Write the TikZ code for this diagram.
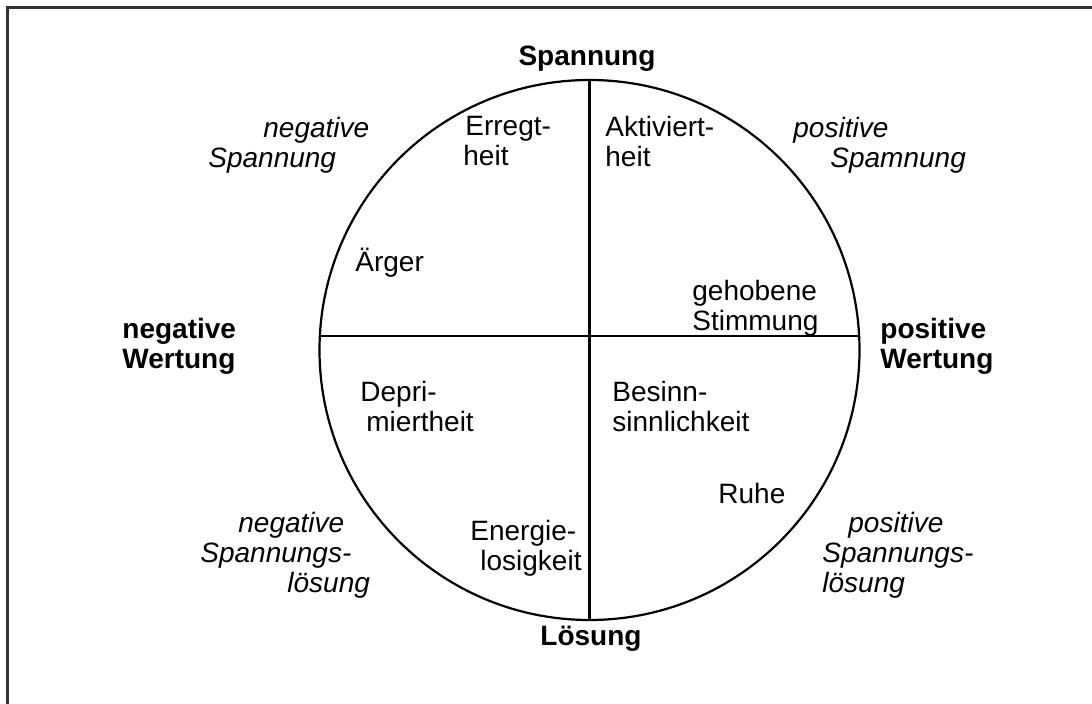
\documentclass[tikz,border=0pt]{standalone}
\usepackage{fontspec}
\setmainfont{Liberation Sans}

\tikzset{
  axis label/.style={font=\fontsize{14}{15}\selectfont\bfseries, align=left, inner sep=0pt},
  zone label/.style={font=\fontsize{14}{15}\selectfont\itshape, align=left, inner sep=0pt, anchor=north west},
  mood label/.style={font=\fontsize{14}{15}\selectfont, align=left, inner sep=0pt, anchor=north west},
}

\begin{document}
\begin{tikzpicture}[x=0.5pt,y=-0.5pt]
    \useasboundingbox (0,0) rectangle (1092,704);
    % frame, open at right and bottom
    \coordinate (frame bl) at (7,704);
    \coordinate (frame tl) at (7,8);
    \coordinate (frame tr) at (1092,8);
    \draw[line width=1.5pt, black!80] (frame bl) -- (frame tl) -- (frame tr);

    \node[circle, draw, line width=1.1pt, minimum size=270pt, inner sep=0pt] (wheel) at (589.5,350) {};
    \draw[line width=1.1pt] (wheel.north) -- (wheel.south);
    \draw[line width=1.1pt] (wheel.177.6) -- (wheel.3.4);

    \node[axis label] (tension) at (587,59) {Spannung};
    \node[axis label] (release) at (591,639) {Lösung};
    \node[axis label, anchor=west] (negval) at (122,346) {negative\\Wertung};
    \node[axis label, anchor=west] (posval) at (880,346) {positive\\Wertung};

    \node[zone label] (negspan) at (208,117) {\hspace*{27.5pt}negative\\Spannung};
    \node[zone label] (posspan) at (793,117) {positive\\\hspace*{18.5pt}Spamnung};
    \node[zone label] (neglos) at (200,512) {\hspace*{19pt}negative\\Spannungs-\\\hspace*{43.5pt}lösung};
    \node[zone label] (poslos) at (822,512) {\hspace*{13pt}positive\\Spannungs-\\lösung};

    \node[mood label] (erregt) at (463,116) {\hspace*{1pt}Erregt-\\heit};
    \node[mood label] (aktiv) at (605,116) {Aktiviert-\\heit};
    \node[mood label, anchor=west] (aerger) at (355,263) {Ärger};
    \node[mood label] (gehoben) at (692,280) {gehobene\\Stimmung};
    \node[mood label] (deprim) at (360,381) {Depri-\\\hspace*{3pt}miertheit};
    \node[mood label] (besinn) at (612,381) {Besinn-\\sinnlichkeit};
    \node[mood label, anchor=west] (ruhe) at (718,493) {Ruhe};
    \node[mood label] (energie) at (470,520) {Energie-\\\hspace*{5pt}losigkeit};
\end{tikzpicture}
\end{document}
